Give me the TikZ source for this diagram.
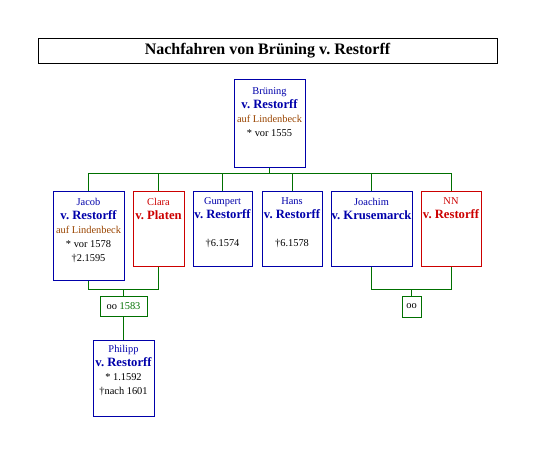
\documentclass[tikz,border=0pt]{standalone}
\usepackage{fontspec}
\setmainfont{Liberation Serif}
\usetikzlibrary{positioning}
\definecolor{famblue}{RGB}{0,0,170}
\definecolor{famred}{RGB}{204,0,0}
\definecolor{fambrown}{RGB}{153,68,0}
\definecolor{famgreen}{RGB}{0,112,0}
\def\px{0.75pt}
\frenchspacing
\newcommand\famname[1]{{\fontsize{9.5}{10.5}\selectfont\bfseries #1}}
\newcommand\dates[1]{\textcolor{black}{#1}}

\begin{document}
\begin{tikzpicture}[x=0.75pt, y=-0.75pt,
  person/.style={draw=#1, line width=0.75pt, anchor=north, inner sep=0pt},
  ptext/.style={text=#1, font=\fontsize{7.8}{10.5}\selectfont, align=center, inner sep=0pt},
  link/.style={draw=famgreen, line width=0.75pt},
  wed/.style={draw=famgreen, line width=0.75pt, inner sep=0pt, font=\fontsize{7.8}{9}\selectfont},
]
\useasboundingbox (0,0) rectangle (534,468);
% title
\node[draw=black, line width=0.75pt, minimum width=459*\px, minimum height=25*\px, inner sep=0pt,
  font=\fontsize{12}{14}\selectfont\bfseries] (title) at (267.5,50.5) {Nachfahren von Brüning v. Restorff};
% ---- generation 1 ----
\node[person=famblue, minimum width=71*\px, minimum height=88*\px] (bruening) at (269.5,79) {};
\node[ptext=famblue, below=6pt of bruening.north] (brueningt) {Brüning\\ \famname{v. Restorff}\\ \textcolor{fambrown}{auf Lindenbeck}\\ \dates{* vor 1555}};
% ---- generation 2 ----
\node[person=famblue, minimum width=71*\px, minimum height=89*\px] (jacob) at (88.5,191) {};
\node[ptext=famblue, below=5pt of jacob.north] (jacobt) {Jacob\\ \famname{v. Restorff}\\ \textcolor{fambrown}{auf Lindenbeck}\\ \dates{* vor 1578}\\ \dates{†2.1595}};
\node[person=famred, minimum width=51*\px, minimum height=75*\px] (clara) at (158.5,191) {};
\node[ptext=famred, below=5pt of clara.north] (clarat) {Clara\\ \famname{v. Platen}};
\node[person=famblue, minimum width=59*\px, minimum height=75*\px] (gumpert) at (222.5,191) {};
\node[ptext=famblue, below=5pt of gumpert.north] (gumpertt) {Gumpert\\ \famname{v. Restorff}\\[10.5pt] \dates{†6.1574}};
\node[person=famblue, minimum width=60*\px, minimum height=75*\px] (hans) at (292,191) {};
\node[ptext=famblue, below=5pt of hans.north] (hanst) {Hans\\ \famname{v. Restorff}\\[10.5pt] \dates{†6.1578}};
\node[person=famblue, minimum width=81*\px, minimum height=75*\px] (joachim) at (371.5,191) {};
\node[ptext=famblue, below=5pt of joachim.north] (joachimt) {Joachim\\ \famname{v. Krusemarck}};
\node[person=famred, minimum width=60*\px, minimum height=75*\px] (nn) at (451,191) {};
\node[ptext=famred, below=5pt of nn.north] (nnt) {NN\\ \famname{v. Restorff}};
% marriages
\node[wed, minimum width=47*\px, minimum height=20*\px] (wed1) at (123.5,306) {oo \textcolor{famgreen}{1583}};
\node[wed, minimum width=19*\px, minimum height=21*\px] (wed2) at (411.5,306.5) {oo};
% ---- generation 3 ----
\node[person=famblue, minimum width=61*\px, minimum height=76*\px] (philipp) at (123.5,340) {};
\node[ptext=famblue, below=4pt of philipp.north] (philippt) {Philipp\\ \famname{v. Restorff}\\ \dates{* 1.1592}\\ \dates{†nach 1601}};
% connectors
\draw[link] (bruening.south) -- ++(0,5) coordinate (hub);
\foreach \c in {jacob,clara,gumpert,hans,joachim,nn}{ \draw[link] (hub) -| (\c.north); }
\draw[link] (jacob.south) -- ++(0,8) coordinate (j1) -| (clara.south);
\draw[link] (wed1.north) -- (wed1.north |- j1);
\draw[link] (wed1.south) -- (philipp.north);
\draw[link] (joachim.south) -- ++(0,22) coordinate (j2) -| (nn.south);
\draw[link] (wed2.north) -- (wed2.north |- j2);
\end{tikzpicture}
\end{document}
